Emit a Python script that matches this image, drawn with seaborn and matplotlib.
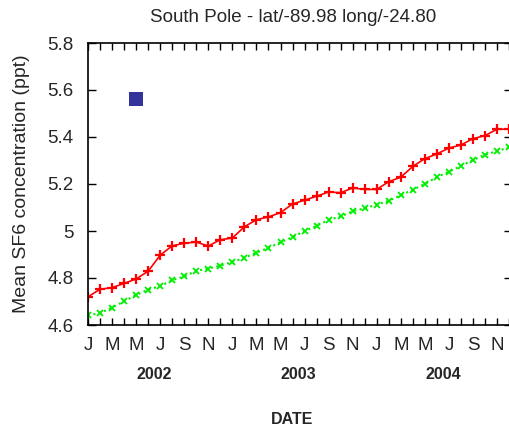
import matplotlib
matplotlib.use("Agg")
import matplotlib.pyplot as plt
import seaborn as sns
import pandas as pd
import numpy as np

# ---- data ----
month_letters = ["J", "F", "M", "A", "M", "J", "J", "A", "S", "O", "N", "D"]
years = ["2002", "2003", "2004"]
red_values = [4.720, 4.752, 4.759, 4.777, 4.796, 4.829, 4.897, 4.937, 4.948, 4.953,
              4.936, 4.963, 4.970, 5.018, 5.048, 5.060, 5.078, 5.115, 5.131, 5.148,
              5.166, 5.163, 5.183, 5.177, 5.177, 5.210, 5.229, 5.275, 5.308, 5.328,
              5.353, 5.366, 5.393, 5.406, 5.433, 5.433]
green_values = [4.641, 4.651, 4.674, 4.701, 4.728, 4.750, 4.766, 4.790, 4.807, 4.830,
                4.840, 4.853, 4.868, 4.886, 4.908, 4.928, 4.952, 4.974, 5.000, 5.022,
                5.047, 5.062, 5.084, 5.097, 5.112, 5.129, 5.152, 5.176, 5.200, 5.230,
                5.252, 5.277, 5.302, 5.325, 5.340, 5.356]
square_month = [4]
square_value = [5.562]
y_ticks = [4.6, 4.8, 5.0, 5.2, 5.4, 5.6, 5.8]
y_tick_labels = ["4.6", "4.8", "5", "5.2", "5.4", "5.6", "5.8"]

months = list(range(len(red_values)))
df = pd.DataFrame({"month": months, "red": red_values, "green": green_values})

sns.set_style("white")
plt.rcParams["font.family"] = ["Liberation Sans", "DejaVu Sans"]

fig = plt.figure(figsize=(5.09, 4.30), dpi=100)
ax = fig.add_axes([88 / 509, 1 - 325 / 430, (511.5 - 88) / 509, (325 - 43) / 430])

sns.lineplot(data=df, x="month", y="green", ax=ax, color="#00ee00", linestyle=":",
             linewidth=1.5, marker="x", markersize=5, markeredgewidth=1.3,
             markeredgecolor="#00ee00")
sns.lineplot(data=df, x="month", y="red", ax=ax, color="#ff0000", linestyle="-",
             linewidth=1.2, marker="+", markersize=7, markeredgewidth=1.6,
             markeredgecolor="#ff0000")
sns.scatterplot(x=square_month, y=square_value, ax=ax, marker="s", s=100,
                color="#333399", edgecolor="none")

ax.set_xlim(0, 35.2)
ax.set_ylim(4.6, 5.8)
ax.set_yticks(y_ticks)
ax.set_yticklabels(y_tick_labels, fontsize=13.5)
ax.set_xticks(months, minor=True)
major = months[::2]
ax.set_xticks(major)
ax.set_xticklabels([month_letters[m % 12] for m in major], fontsize=13.5)

ax.tick_params(axis="y", which="both", direction="in", left=True, right=True,
               length=6, width=1, color="black", pad=10.5)
ax.tick_params(axis="x", which="both", direction="in", bottom=True, top=True,
               length=5, width=1, color="black", pad=9)

for sp in ax.spines.values():
    sp.set_visible(True)
    sp.set_color("black")
    sp.set_linewidth(1.2)

ax.set_xlabel("")
ax.set_ylabel("Mean SF6 concentration (ppt)", fontsize=14, labelpad=12)
ax.set_title("South Pole - lat/-89.98 long/-24.80", fontsize=13.5, pad=15,
             x=(293 - 88) / 423.5)

trans = ax.get_xaxis_transform()
for i, yr in enumerate(years):
    ax.text(5.5 + 12 * i, -0.175, yr, transform=trans, ha="center", va="center",
            fontsize=11.5, fontweight="bold")
fig.text(292 / 509, 1 - 420 / 430, "DATE", ha="center", va="center",
         fontsize=11.5, fontweight="bold")

fig.savefig("out.png", dpi=100)
